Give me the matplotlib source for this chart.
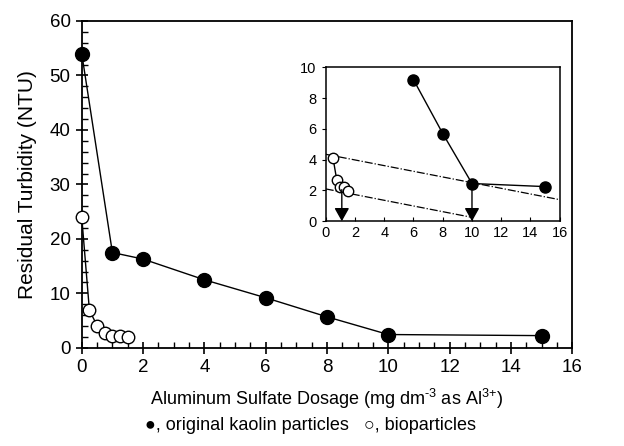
import numpy as np
import matplotlib
matplotlib.use("Agg")
import matplotlib.pyplot as plt
from matplotlib.ticker import MultipleLocator

plt.rcParams['font.family'] = ['Liberation Sans', 'DejaVu Sans']
plt.rcParams['mathtext.fontset'] = 'custom'
plt.rcParams['mathtext.rm'] = 'Liberation Sans'
plt.rcParams['mathtext.it'] = 'Liberation Sans:italic'

# original kaolin particles (filled)
kaolin_x = [0, 1, 2, 4, 6, 8, 10, 15]
kaolin_y = [54.0, 17.5, 16.3, 12.5, 9.2, 5.7, 2.45, 2.25]
# bioparticles (open)
bio_x = [0, 0.25, 0.5, 0.75, 1.0, 1.25, 1.5]
bio_y = [24.0, 6.9, 4.1, 2.7, 2.2, 2.2, 1.95]

# inset guide lines (dash-dot) and arrows
guide_upper_x = [0, 16]
guide_upper_y = [4.35, 1.4]
guide_lower_x = [0, 10]
guide_lower_y = [2.1, 0.25]
arrow_x = [1.1, 10]
arrow_top = [2.05, 2.45]

fig = plt.figure(figsize=(6.24, 4.46), dpi=100)
ax = fig.add_axes([0.131, 0.220, 0.786, 0.733])

ax.plot(kaolin_x, kaolin_y, color='black', lw=1, marker='o', ms=10,
        mfc='black', mec='black', zorder=3, clip_on=False)
ax.plot(bio_x, bio_y, color='black', lw=1, marker='o', ms=9,
        mfc='white', mec='black', mew=1, zorder=4, clip_on=False)

ax.set_xlim(0, 16)
ax.set_ylim(0, 60)
ax.xaxis.set_major_locator(MultipleLocator(2))
ax.xaxis.set_minor_locator(MultipleLocator(0.5))
ax.yaxis.set_major_locator(MultipleLocator(10))
ax.yaxis.set_minor_locator(MultipleLocator(2))
ax.tick_params(which='major', direction='inout', length=9, width=1.2, labelsize=13.5)
ax.tick_params(which='minor', direction='in', length=4, width=1)
for s in ax.spines.values():
    s.set_linewidth(1.3)

ax.set_ylabel('Residual Turbidity (NTU)', fontsize=15, labelpad=9)
ax.set_xlabel(r'Aluminum Sulfate Dosage (mg dm$^{\text{-}3}$ as Al$^{3\text{+}}$)',
              fontsize=13, labelpad=8)
fig.text(0.497, 0.047, '\u25cf, original kaolin particles   \u25cb, bioparticles',
         ha='center', va='center', fontsize=13)

# inset
ins = fig.add_axes([0.522, 0.504, 0.375, 0.345])
ins.plot(kaolin_x[4:], kaolin_y[4:], color='black', lw=1, marker='o', ms=8,
         mfc='black', mec='black', zorder=3)
ins.plot(bio_x[2:], bio_y[2:], color='black', lw=1, marker='o', ms=7.5,
         mfc='white', mec='black', mew=1, zorder=4)
ins.plot(guide_upper_x, guide_upper_y, color='black', lw=0.9, ls='-.', zorder=2)
ins.plot(guide_lower_x, guide_lower_y, color='black', lw=0.9, ls='-.', zorder=2)
for xa, ya in zip(arrow_x, arrow_top):
    ins.annotate('', xy=(xa, 0), xytext=(xa, ya),
                 arrowprops=dict(arrowstyle='-|>,head_length=0.8,head_width=0.45',
                                 color='black', lw=1, shrinkA=0, shrinkB=0),
                 zorder=5)
ins.set_xlim(0, 16)
ins.set_ylim(0, 10)
ins.xaxis.set_major_locator(MultipleLocator(2))
ins.yaxis.set_major_locator(MultipleLocator(2))
ins.tick_params(axis='x', direction='in', length=3, labelsize=10.5)
ins.tick_params(axis='y', direction='out', length=3, labelsize=10.5)
for s in ins.spines.values():
    s.set_linewidth(1.1)

fig.savefig('out.png', dpi=100)
